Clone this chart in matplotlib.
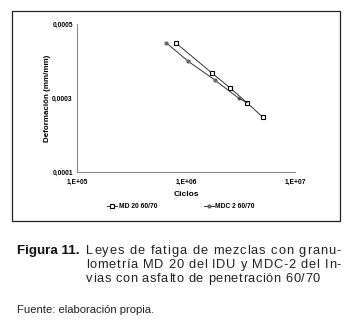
import matplotlib
matplotlib.use('Agg')
import matplotlib.pyplot as plt
from matplotlib.patches import Rectangle

plt.rcParams['font.family'] = ['Liberation Sans', 'DejaVu Sans']

# data
md20_ciclos = [8.05e5, 1.72e6, 2.52e6, 3.63e6, 5.08e6]
md20_def = [0.000449, 0.000368, 0.000328, 0.000287, 0.000248]
mdc2_ciclos = [6.6e5, 1.05e6, 1.83e6, 3.06e6, 3.63e6]
mdc2_def = [0.000449, 0.000399, 0.000349, 0.000299, 0.000287]
x_ticks = [1e5, 1e6, 1e7]
x_labels = ['1,E+05', '1,E+06', '1,E+07']
y_ticks = [0.0001, 0.0003, 0.0005]
y_labels = ['0,0001', '0,0003', '0,0005']
caption = ['Leyes de fatiga de mezclas con granu-',
           'lometría MD 20 del IDU y MDC-2 del In-',
           'vias con asfalto de penetración 60/70']

W, H = 345, 324
fig = plt.figure(figsize=(W / 100, H / 100), dpi=100)
renderer = fig.canvas.get_renderer()


def spaced_text(s, x0, x1, y, **kw):
    # letter-spaced text stretched from x0 to x1 (pixels), like the scanned page
    probe = fig.text(0, 0, s, **kw)
    natural = probe.get_window_extent(renderer).width
    probe.remove()
    track = (x1 - x0 - natural) / (len(s) - 1)
    bar = fig.text(0, 0, '|', **kw)
    bar_w = bar.get_window_extent(renderer).width
    bar.remove()
    for k, ch in enumerate(s):
        if ch == ' ':
            continue
        off = 0
        if k:
            p = fig.text(0, 0, s[:k] + '|', **kw)
            off = p.get_window_extent(renderer).width - bar_w
            p.remove()
        fig.text((x0 + off + k * track) / W, 1 - y / H, ch, va='center', **kw)


# outer frame of the chart
fig.patches.append(Rectangle((11.5 / W, 1 - 221 / H), 328 / W, 210 / H,
                             transform=fig.transFigure, fill=False,
                             edgecolor='#222222', linewidth=0.9))

ax = fig.add_axes([77 / W, 1 - 172 / H, 218 / W, 148 / H])
ax.plot(md20_ciclos, md20_def, color='#333333', linewidth=0.7, marker='s',
        markersize=3, markerfacecolor='white', markeredgecolor='black',
        markeredgewidth=0.8, label='MD 20 60/70')
ax.plot(mdc2_ciclos[:4], mdc2_def[:4], color='#333333', linewidth=0.7, marker='o',
        markersize=2, markerfacecolor='#666666', markeredgecolor='#666666',
        label='MDC 2 60/70')
ax.plot(mdc2_ciclos[3:], mdc2_def[3:], color='#333333', linewidth=0.7)

ax.set_xscale('log')
ax.set_xlim(1e5, 1e7)
ax.set_ylim(0.0001, 0.0005)
ax.set_xticks(x_ticks)
ax.set_xticklabels(x_labels, fontsize=4.8, fontweight='bold')
ax.xaxis.set_minor_locator(plt.NullLocator())
ax.set_yticks(y_ticks)
ax.set_yticklabels(y_labels, fontsize=4.8, fontweight='bold')
ax.tick_params(axis='y', length=0, pad=3)
ax.tick_params(axis='x', length=0, pad=5)
for s in ['top', 'right']:
    ax.spines[s].set_visible(False)
for s in ['left', 'bottom']:
    ax.spines[s].set_color('#888888')
    ax.spines[s].set_linewidth(0.8)

ax.set_xlabel('Ciclos', fontsize=6, fontweight='bold', labelpad=4)
ax.set_ylabel('Deformación (mm/mm)', fontsize=5.8, fontweight='bold', labelpad=1)

fig.legend(loc='center', bbox_to_anchor=(181 / W, 1 - 207 / H), ncol=2,
           frameon=False, prop={'weight': 'bold', 'size': 4.8},
           handlelength=1.5, columnspacing=7, handletextpad=0.2)

fig.text(17 / W, 1 - 251 / H, 'Figura 11.', fontsize=9.6, fontweight='bold',
         va='center', color='#111111')
ends = [341, 341, 320]
for i, line in enumerate(caption):
    spaced_text(line, 86, ends[i], 251 + 14 * i, fontsize=9.3, color='#222222')
fig.text(17 / W, 1 - 310 / H, 'Fuente: elaboración propia.', fontsize=8.1,
         va='center', color='#222222')

fig.savefig('out.png', dpi=100)
